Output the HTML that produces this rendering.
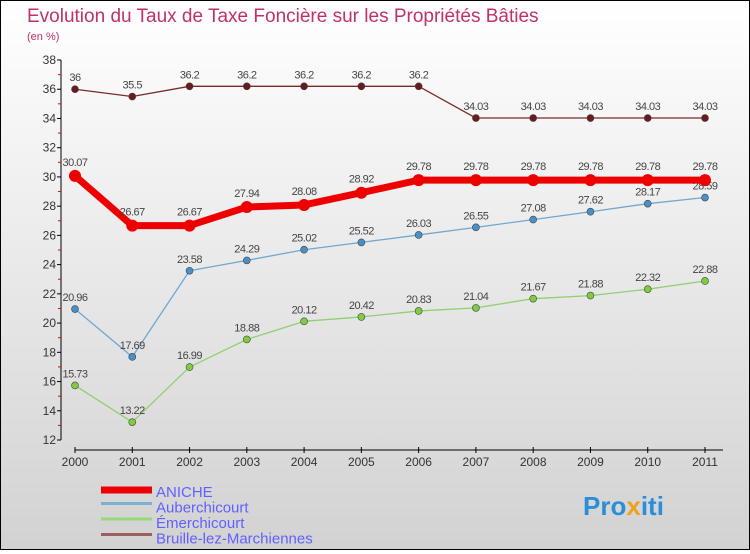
<!DOCTYPE html>
<html><head><meta charset="utf-8"><style>
html,body{margin:0;padding:0}
body{width:750px;height:550px;overflow:hidden;font-family:"Liberation Sans",sans-serif}
#wrap{position:absolute;left:0;top:0;width:748px;height:548px;border:1px solid #000;background:linear-gradient(#ffffff,#d2d2d2)}
</style></head><body>
<div id="wrap">
<svg id="chart" width="748" height="548" xmlns="http://www.w3.org/2000/svg">
<text x="26" y="21" font-size="19" fill="#c0306a">Evolution du Taux de Taxe Foncière sur les Propriétés Bâties</text>
<text x="26" y="39" font-size="11" fill="#c0306a">(en %)</text>
<g id="axes"></g>
<g id="series"></g>
<g id="legend"></g>
<text x="582" y="514" font-size="26" font-weight="bold" fill="#2a8fd8">Pro<tspan fill="#f0a020">x</tspan>iti</text>
</svg>
</div>
<script>
const years=[2000,2001,2002,2003,2004,2005,2006,2007,2008,2009,2010,2011];
const yTicks=[12,14,16,18,20,22,24,26,28,30,32,34,36,38];
const aniche=[30.07,26.67,26.67,27.94,28.08,28.92,29.78,29.78,29.78,29.78,29.78,29.78];
const auberchicourt=[20.96,17.69,23.58,24.29,25.02,25.52,26.03,26.55,27.08,27.62,28.17,28.59];
const emerchicourt=[15.73,13.22,16.99,18.88,20.12,20.42,20.83,21.04,21.67,21.88,22.32,22.88];
const bruille=[36,35.5,36.2,36.2,36.2,36.2,36.2,34.03,34.03,34.03,34.03,34.03];
const seriesNames=["ANICHE","Auberchicourt","Émerchicourt","Bruille-lez-Marchiennes"];
const NS="http://www.w3.org/2000/svg";
const X=i=>74+i*(630/11);
const Y=v=>439-(v-12)*(380/26);
function mk(tag,attrs,parent){const e=document.createElementNS(NS,tag);for(const k in attrs)e.setAttribute(k,attrs[k]);parent.appendChild(e);return e;}
const ax=document.getElementById('axes');
let l=mk('line',{x1:60,y1:59,x2:60,y2:439,stroke:'#000'},ax);


yTicks.forEach(t=>{
  const y=Y(t);
  let tk=mk('line',{x1:56,y1:y,x2:60,y2:y,stroke:'#000'},ax);
  
  
  if(t<38){let m=mk('line',{x1:57,y1:Y(t+1),x2:60,y2:Y(t+1),stroke:'#e00'},ax);
  
  }
  let tx=mk('text',{x:55,y:y+4,'font-size':12,'text-anchor':'end',fill:'#333'},ax);tx.textContent=t;
  
  
});
let xa=mk('line',{x1:74,y1:449,x2:722,y2:449,stroke:'#000'},ax);


years.forEach((yr,i)=>{
  let tk=mk('line',{x1:X(i),y1:446,x2:X(i),y2:452,stroke:'#000'},ax);
  
  
  let tx=mk('text',{x:X(i),y:465,'font-size':12,'text-anchor':'middle',fill:'#333'},ax);tx.textContent=yr;
  
  
});
const sg=document.getElementById('series');
function draw(data,color,fill,w,r,key,labDy){
  const g=mk('g',{},sg);
  
  
  let p=mk('polyline',{points:data.map((v,i)=>X(i)+','+Y(v)).join(' '),fill:'none',stroke:color,'stroke-width':w,'stroke-linejoin':'round'},g);
  
  
  data.forEach((v,i)=>{
    let c=mk('circle',{cx:X(i),cy:Y(v),r:r,fill:fill,stroke:color==='#e00'?'none':'#444','stroke-width':0.6},g);
    
    
    let t=mk('text',{x:X(i),y:Y(v)+labDy,'font-size':11,'text-anchor':'middle',fill:'#444','letter-spacing':'-0.5'},g);t.textContent=v;
    
    
  });
}
draw(bruille,'#7a2a2a','#6a1a1a',1.3,3.5,'bruille',-8);
draw(emerchicourt,'#90d070','#80cc40',1.3,3.5,'emerchicourt',-8);
draw(auberchicourt,'#70a8d0','#4a90c8',1.3,3.5,'auberchicourt',-8);
draw(aniche,'#e00','#e00',7,6,'aniche',-10);
const lg=document.getElementById('legend');
const lc=['#e00','#7ab0d0','#98d878','#9a6060'];
const lw=[7,3,3,3];
seriesNames.forEach((n,i)=>{
  const y=491+i*15.5;
  let s=mk('line',{x1:100,y1:y-(i===0?2:4),x2:151,y2:y-(i===0?2:4),stroke:lc[i],'stroke-width':lw[i]},lg);
  
  
  let t=mk('text',{x:155,y:y+5,'font-size':15,fill:'#6060ff'},lg);t.textContent=n;
  
  
});
</script>
</body></html>
